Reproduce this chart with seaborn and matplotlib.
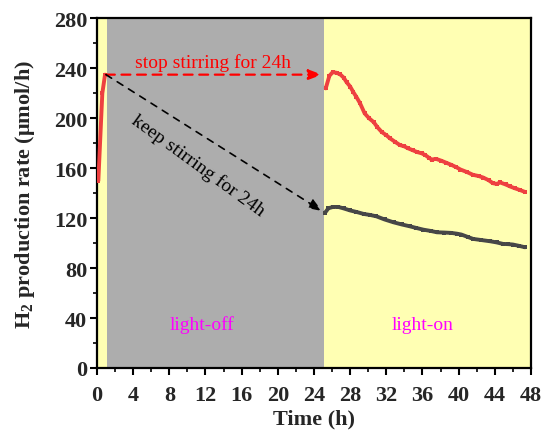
import matplotlib
matplotlib.use("Agg")
import matplotlib.pyplot as plt
from matplotlib.ticker import MultipleLocator
import seaborn as sns
import pandas as pd

# Start-up period before the dark phase (stirred, light on)
start_t = [0.15, 0.59, 0.89]
start_y = [150, 220, 235]

# Light-on phase after 24 h without stirring
stop_t = [25.3, 25.7, 26.07, 26.5, 26.9, 27.3, 27.6, 28.0, 28.35, 28.7, 29.1, 29.6,
          30.1, 30.6, 31.0, 31.5, 32.0, 32.4, 33.0, 33.5, 34.0, 34.4, 34.9, 35.4,
          35.9, 36.3, 36.7, 37.0, 37.5, 38.1, 38.6, 39.2, 39.7, 40.2, 40.9, 41.6,
          42.2, 42.7, 43.3, 43.8, 44.2, 44.6, 45.2, 45.7, 46.2, 46.8, 47.35]
stop_y = [224, 234, 237, 236.5, 235.2, 232.5, 229, 225.5, 221, 217, 212, 204,
          200, 197, 193, 189, 186.5, 184, 181, 178.6, 177.5, 176, 174.5, 173,
          172, 170.6, 168.5, 167, 167.5, 166, 164.5, 162.7, 161, 159, 157, 154.7,
          153.8, 152.6, 150.5, 148, 147.5, 148.6, 147, 145.4, 144, 142.5, 141]

# Light-on phase after 24 h of continued stirring
keep_t = [25.2, 25.6, 26.1, 26.7, 27.3, 28.0, 28.7, 29.5, 30.2, 30.9, 31.8, 32.8,
          33.7, 34.6, 35.3, 36.1, 36.9, 37.6, 38.4, 39.2, 39.8, 40.3, 41.0, 41.6,
          42.5, 43.5, 44.2, 44.9, 45.5, 46.0, 46.7, 47.35]
keep_y = [124.2, 128, 129, 129, 127.8, 126.2, 125, 123.4, 122.6, 121.5, 119, 116.7,
          115, 113.5, 112.2, 110.8, 109.8, 108.7, 108.5, 108.2, 107.6, 106.9, 105, 103.4,
          102.5, 101.5, 100.6, 99.4, 99.2, 98.9, 97.8, 96.7]

x_ticks = list(range(0, 49, 4))
y_ticks = list(range(0, 281, 40))

sns.set_style("ticks")
plt.rcParams["font.family"] = ["Liberation Serif", "DejaVu Serif"]
plt.rcParams["mathtext.fontset"] = "custom"
plt.rcParams["mathtext.rm"] = "Liberation Serif"
plt.rcParams["mathtext.bf"] = "Liberation Serif:bold"

RED = "#EE4040"
DARK = "#474747"
YELLOW = "#FFFFB3"
GRAY = "#ADADAD"

fig = plt.figure(figsize=(5.43, 4.31), dpi=100)
ax = fig.add_axes([0.1786, 0.1439, 0.7993, 0.8109])

ax.axvspan(0, 1.14, color=YELLOW, lw=0, zorder=0)
ax.axvspan(1.14, 25.1, color=GRAY, lw=0, zorder=0)
ax.axvspan(25.1, 48, color=YELLOW, lw=0, zorder=0)

df_start = pd.DataFrame({"t": start_t, "rate": start_y})
df_stop = pd.DataFrame({"t": stop_t, "rate": stop_y})
df_keep = pd.DataFrame({"t": keep_t, "rate": keep_y})

line_kw = dict(marker="s", markersize=3, linewidth=2.8, markeredgewidth=0)
sns.lineplot(data=df_start, x="t", y="rate", color=RED, ax=ax, zorder=3, **line_kw)
sns.lineplot(data=df_stop, x="t", y="rate", color=RED, ax=ax, zorder=3, **line_kw)
sns.lineplot(data=df_keep, x="t", y="rate", color=DARK, ax=ax, zorder=3, **line_kw)

# Dashed guide arrows from the end of the start-up period
ax.annotate("", xy=(24.9, start_y[-1]), xytext=(start_t[-1] + 0.1, start_y[-1]),
            arrowprops=dict(arrowstyle="-|>,head_length=0.8,head_width=0.3",
                            color="red", lw=1.6, linestyle=(0, (4, 3)),
                            shrinkA=0, shrinkB=0), zorder=4)
ax.annotate("", xy=(24.9, keep_y[0] + 1.5), xytext=(start_t[-1] + 0.1, start_y[-1]),
            arrowprops=dict(arrowstyle="-|>,head_length=0.8,head_width=0.3",
                            color="black", lw=1.2, linestyle=(0, (4, 4)),
                            shrinkA=0, shrinkB=0), zorder=4)

ax.text(12.8, 245, "stop stirring for 24h", color="red", fontsize=14,
        ha="center", va="center")
ax.text(11.2, 162.5, "keep stirring for 24h", color="black", fontsize=14,
        ha="center", va="center", rotation=-36, rotation_mode="anchor")
ax.text(11.6, 35, "light-off", color="#FF00FF", fontsize=14, ha="center", va="center")
ax.text(36.0, 35, "light-on", color="#FF00FF", fontsize=14, ha="center", va="center")

ax.set_xlim(0, 48)
ax.set_ylim(0, 280)
ax.set_xticks(x_ticks)
ax.set_yticks(y_ticks)
ax.xaxis.set_minor_locator(MultipleLocator(2))
ax.yaxis.set_minor_locator(MultipleLocator(20))
ax.tick_params(which="major", direction="out", length=5, width=1.5,
               labelsize=16, color="black")
ax.tick_params(axis="x", which="major", pad=7)
ax.tick_params(axis="y", which="major", pad=2)
ax.tick_params(which="minor", direction="out", length=3, width=1.2, color="black")
for lab in ax.get_xticklabels() + ax.get_yticklabels():
    lab.set_fontweight("bold")

for side in ["left", "right", "top", "bottom"]:
    ax.spines[side].set_visible(True)
    ax.spines[side].set_linewidth(1.6)
    ax.spines[side].set_color("black")
ax.spines["right"].set_zorder(5)

ax.set_xlabel("Time (h)", fontsize=16, fontweight="bold", labelpad=3)
ax.set_ylabel(r"H$_\mathbf{2}$ production rate (μmol/h)", fontsize=16,
              fontweight="bold", labelpad=12)

fig.savefig("out.png", dpi=100)
